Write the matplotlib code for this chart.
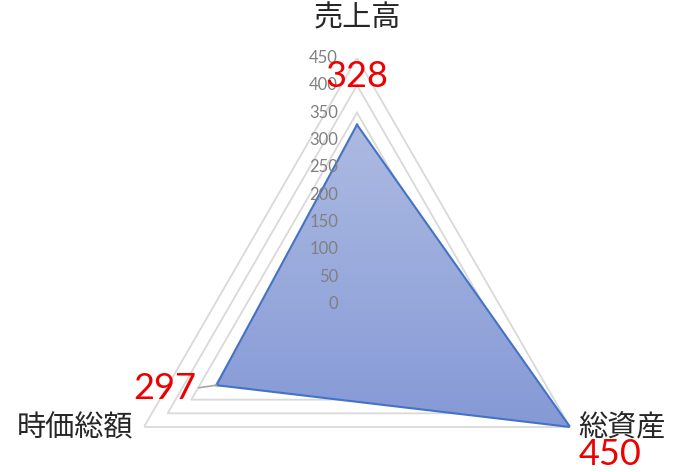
import numpy as np
import matplotlib
matplotlib.use('Agg')
import matplotlib.pyplot as plt
from matplotlib.image import AxesImage
from matplotlib.colors import LinearSegmentedColormap

# ----------------------------------------------------------------------
#  Data
# ----------------------------------------------------------------------
categories = ['売上高', '総資産', '時価総額']
values = [328, 450, 297]
r_ticks = [0, 50, 100, 150, 200, 250, 300, 350, 400, 450]
r_max = 450

cjk = ['Noto Sans CJK JP', 'DejaVu Sans']
num_font = ['Lato', 'DejaVu Sans']

# ----------------------------------------------------------------------
#  Figure / polar axes
# ----------------------------------------------------------------------
W, H = 681, 472
fig = plt.figure(figsize=(W / 100, H / 100), dpi=100)
cx, cy, R = 357, 304, 246
ax = fig.add_axes([(cx - R) / W, (H - cy - R) / H, 2 * R / W, 2 * R / H],
                  projection='polar')
ax.set_theta_zero_location('N')
ax.set_theta_direction(-1)
ax.set_ylim(0, r_max)
ax.grid(False)
ax.set_xticks([])
ax.set_yticks([])
ax.spines['polar'].set_visible(False)
ax.patch.set_visible(False)

n = len(categories)
theta = np.arange(n) * 2 * np.pi / n
theta_c = np.append(theta, theta[0])
vals_c = np.append(values, values[0])

# gridlines (triangles)
for v in r_ticks[1:]:
    ax.plot(theta_c, [v] * (n + 1), color='#d9d9d9', lw=1.3, zorder=1)

# gradient filled area
poly = ax.fill(theta_c, vals_c, facecolor='none', edgecolor='none', zorder=2)[0]
cmap = LinearSegmentedColormap.from_list('grad', ['#8599d6', '#adbbe2'])
im = AxesImage(ax, cmap=cmap, extent=(0, 1, 0.25, 0.87),
               transform=ax.transAxes, origin='lower', zorder=2)
im.set_data(np.linspace(0, 1, 256).reshape(-1, 1))
ax.add_image(im)
im.set_clip_path(poly)

ax.plot(theta_c, vals_c, color='#4472c4', lw=1.5, zorder=3)

# radial tick labels
for v in r_ticks:
    ax.annotate(str(v), xy=(0, v), xytext=(-19, 0), textcoords='offset pixels',
                ha='right', va='center', fontsize=12, color='#808080',
                family=num_font, zorder=4)

# category labels
cat_offsets = [(0, 40, 'center'), (8, -1, 'left'), (-11, -1, 'right')]
for t, name, (dx, dy, ha) in zip(theta, categories, cat_offsets):
    ax.annotate(name, xy=(t, r_max), xytext=(dx, dy), textcoords='offset pixels',
                ha=ha, va='center', fontsize=21, color='#262626', family=cjk)

# data labels
lab_offsets = [(0, 48), (40, -28), (-52, -3)]
for t, v, (dx, dy) in zip(theta, values, lab_offsets):
    kw = {}
    if dx < 0:
        kw['arrowprops'] = dict(arrowstyle='-', color='#a6a6a6', lw=1.2,
                                shrinkA=0, shrinkB=0, relpos=(1, 0.5))
    ax.annotate(str(v), xy=(t, v), xytext=(dx, dy), textcoords='offset pixels',
                ha='center', va='center', fontsize=26, color='#ee0000',
                family=num_font, zorder=5, **kw)

fig.savefig('out.png', dpi=100)
